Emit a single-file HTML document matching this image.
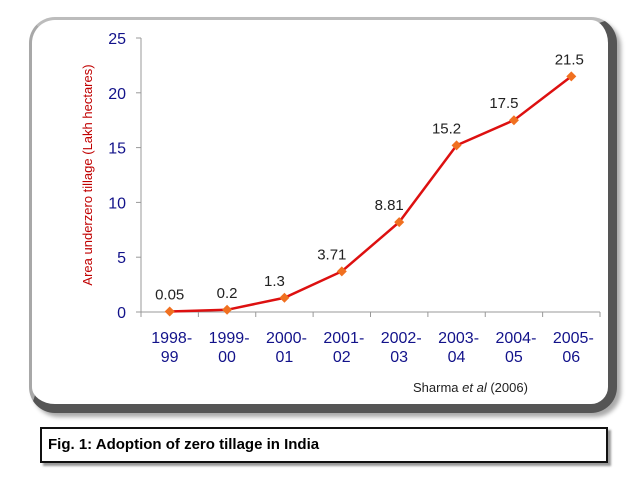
<!DOCTYPE html>
<html><head><meta charset="utf-8"><style>
body{margin:0;background:#fff;width:638px;height:479px;overflow:hidden;font-family:"Liberation Sans",sans-serif}
#card{position:absolute;left:29px;top:17px;width:576px;height:384px;background:#fff;border-radius:26px;border-left:3px solid #a8a8a8;border-top:3px solid #bcbcbc;border-right:9px solid #555;border-bottom:9px solid #555;box-shadow:4px 4px 4px #aaa}
#cap{position:absolute;left:40px;top:427px;width:558px;height:32px;border:2px solid #111;box-shadow:3px 3px 2px #999;background:#fff;font-weight:bold;font-size:15px;line-height:32px;padding-left:6px;box-sizing:content-box}
</style></head><body>
<div id="card"></div>
<svg id="chart" width="638" height="479" style="position:absolute;left:0;top:0"></svg>
<div id="cap">Fig. 1: Adoption of zero tillage in India</div>
<script>
const categories=[["1998-","99"],["1999-","00"],["2000-","01"],["2001-","02"],["2002-","03"],["2003-","04"],["2004-","05"],["2005-","06"]];
const values=[0.05,0.2,1.3,3.71,8.2,15.2,17.5,21.5];
const valueLabels=["0.05","0.2","1.3","3.71","8.81","15.2","17.5","21.5"];
const yTicks=[0,5,10,15,20,25];
const svg=document.getElementById('chart');
const NS='http://www.w3.org/2000/svg';
const x0=141,x1=600,y0=312,y1=38,yMax=25;
const step=(x1-x0)/categories.length;
const X=i=>x0+step*(i+0.5);
const Y=v=>y0-(v/yMax)*(y0-y1);
function mk(t,a,txt){const e=document.createElementNS(NS,t);for(const k in a)e.setAttribute(k,a[k]);if(txt!=null)e.textContent=txt;svg.appendChild(e);return e;}
let e=mk('line',{x1:x0,y1:y0,x2:x0,y2:y1,stroke:'#999'});

e=mk('line',{x1:x0,y1:y0,x2:x1,y2:y0,stroke:'#999'});

yTicks.forEach(t=>{
 mk('line',{x1:x0-5,y1:Y(t),x2:x0,y2:Y(t),stroke:'#999'});
 e=mk('text',{x:126,y:Y(t)+6,'text-anchor':'end','font-size':'16',fill:'#12128a'},t);
 
});
for(let i=0;i<=categories.length;i++) mk('line',{x1:x0+step*i,y1:y0,x2:x0+step*i,y2:y0+5,stroke:'#999'});
categories.forEach((c,i)=>{
 e=mk('text',{x:X(i)+2,y:343,'text-anchor':'middle','font-size':'16',fill:'#12128a'},c[0]);
 
 e=mk('text',{x:X(i),y:362,'text-anchor':'middle','font-size':'16',fill:'#12128a'},c[1]);
 
});
e=mk('text',{transform:'translate(92,175) rotate(-90)','text-anchor':'middle','font-size':'13',fill:'#c00000'},'Area underzero tillage (Lakh hectares)');

e=mk('path',{d:values.map((v,i)=>(i?'L':'M')+X(i)+','+Y(v)).join(''),fill:'none',stroke:'#dd1010','stroke-width':'2.5'});

values.forEach((v,i)=>{
 const cx=X(i),cy=Y(v);
 e=mk('path',{d:`M${cx},${cy-5}L${cx+5},${cy}L${cx},${cy+5}L${cx-5},${cy}Z`,fill:'#f07020'});
 
 e=mk('text',{x:cx-(i<2?0:i==7?2:10),y:cy-12,'text-anchor':'middle','font-size':'15',fill:'#222'},valueLabels[i]);
 
});
e=mk('text',{x:413,y:392,'font-size':'13',fill:'#222'});
e.innerHTML='Sharma <tspan font-style="italic">et al</tspan> (2006)';

</script>
</body></html>
